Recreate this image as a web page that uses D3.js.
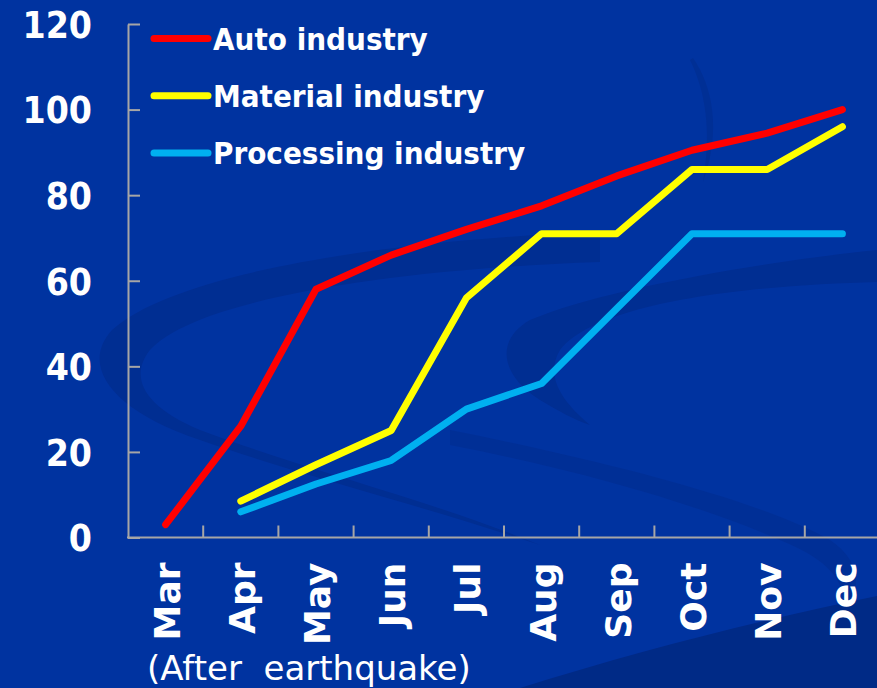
<!DOCTYPE html>
<html>
<head>
<meta charset="utf-8">
<script src="https://cdn.jsdelivr.net/npm/d3@7"></script>
<style>
  html, body { margin: 0; padding: 0; background: #0033a0; }
  svg { display: block; }
</style>
</head>
<body>
<svg id="chart" width="877" height="688"></svg>
<script>
// Recovery of production after the earthquake (index, pre-quake level = 100)
const months = ["Mar", "Apr", "May", "Jun", "Jul", "Aug", "Sep", "Oct", "Nov", "Dec"];
const autoIndustry = [3, 26, 58, 66, 72, 77.5, 84.5, 90.5, 94.5, 100];
const materialIndustry = [null, 8.5, 17, 25, 56, 71, 71, 86, 86, 96];
const processingIndustry = [null, 6, 12.5, 18, 30, 36, 53.5, 71, 71, 71];
const yTicks = [0, 20, 40, 60, 80, 100, 120];
const seriesNames = ["Auto industry", "Material industry", "Processing industry"];
const seriesColors = ["#ff0000", "#ffff00", "#00b0f0"];
const subtitle = "(After  earthquake)";

const series = [autoIndustry, materialIndustry, processingIndustry].map((vals, i) => ({
  name: seriesNames[i],
  color: seriesColors[i],
  values: vals.map((v, j) => ({ month: months[j], value: v }))
}));

const svg = d3.select("#chart");
const W = 877, H = 688;
const plot = { left: 128, right: 880, top: 24, bottom: 537.5 };
const axisColor = "#a6a6a6";
const boldCond = "'DejaVu Sans Condensed', 'DejaVu Sans', sans-serif";

// Background with faint swirl shapes
svg.append("rect").attr("width", W).attr("height", H).attr("fill", "#0033a0");
const deco = svg.append("g").attr("fill", "#002e92");
// left crescent
deco.append("path").attr("d",
  "M600,232 C420,238 180,268 112,330 C80,365 110,410 200,440 C300,475 420,505 540,545 " +
  "C430,500 300,468 200,430 C140,405 130,375 150,350 C200,295 420,268 600,262 Z");
// right crescent
deco.append("path").attr("d",
  "M877,250 C760,262 600,290 530,320 C495,340 500,375 540,400 C560,412 575,420 590,425 " +
  "C560,400 545,375 560,350 C600,300 760,285 877,282 Z");
// faint lower sweep through the right side
deco.append("path").attr("opacity", 0.7).attr("d",
  "M450,430 C600,460 760,500 830,540 C860,560 865,590 840,610 C850,585 830,560 780,540 C700,505 580,470 450,445 Z");
// dark band at the bottom right
deco.append("path").attr("fill", "#002a86").attr("d",
  "M520,688 C640,650 760,620 877,596 L877,688 Z");
// thin arc near the top
deco.append("path").attr("opacity", 0.8).attr("d",
  "M693,58 C712,85 722,130 703,182 C712,130 705,90 690,60 Z");

const x = d3.scaleBand().domain(months).range([plot.left, plot.right]).paddingInner(0).paddingOuter(0);
const y = d3.scaleLinear().domain([0, 120]).range([plot.bottom, plot.top]);

// Y axis: ticks point inward
const yAxis = svg.append("g")
  .attr("transform", `translate(${plot.left},0)`)
  .call(d3.axisLeft(y).tickValues(yTicks).tickSize(-12).tickPadding(36).tickSizeOuter(0));
yAxis.select(".domain").attr("stroke", axisColor).attr("stroke-width", 2);
yAxis.selectAll(".tick line").attr("stroke", axisColor).attr("stroke-width", 2);
yAxis.selectAll(".tick text")
  .attr("fill", "#ffffff")
  .attr("font-family", boldCond)
  .attr("font-weight", "bold")
  .attr("font-size", 37)
  .attr("dy", "0.36em");

// X axis: baseline, boundary ticks, rotated month labels
const xAxis = svg.append("g").attr("transform", `translate(0,${plot.bottom})`);
xAxis.append("line")
  .attr("x1", plot.left - 1).attr("x2", plot.right)
  .attr("stroke", axisColor).attr("stroke-width", 2);
xAxis.selectAll(".xtick").data(months.slice(1)).join("line")
  .attr("class", "xtick")
  .attr("x1", d => x(d)).attr("x2", d => x(d))
  .attr("y1", 0).attr("y2", -12)
  .attr("stroke", axisColor).attr("stroke-width", 2);
xAxis.selectAll(".xlabel").data(months).join("text")
  .attr("class", "xlabel")
  .attr("transform", d => `translate(${x(d) + x.bandwidth() / 2 + 14},25) rotate(-90)`)
  .attr("text-anchor", "end")
  .attr("fill", "#ffffff")
  .attr("font-family", "'DejaVu Sans', sans-serif")
  .attr("font-weight", "bold")
  .attr("font-size", 36)
  .text(d => d);

svg.append("text")
  .attr("x", 147).attr("y", 680)
  .attr("fill", "#ffffff")
  .attr("font-family", "'DejaVu Sans', sans-serif")
  .attr("font-size", 34)
  .style("white-space", "pre")
  .text(subtitle);

// Lines
const line = d3.line()
  .defined(d => d.value !== null)
  .x(d => x(d.month) + x.bandwidth() / 2)
  .y(d => y(d.value));

svg.append("g").selectAll("path").data(series).join("path")
  .attr("d", d => line(d.values))
  .attr("fill", "none")
  .attr("stroke", d => d.color)
  .attr("stroke-width", 7)
  .attr("stroke-linejoin", "round")
  .attr("stroke-linecap", "round");

// Legend
const legend = svg.append("g").selectAll("g").data(series).join("g")
  .attr("transform", (d, i) => `translate(154,${38.5 + i * 57.3})`);
legend.append("line")
  .attr("x1", 0).attr("x2", 54)
  .attr("stroke", d => d.color).attr("stroke-width", 7).attr("stroke-linecap", "round");
legend.append("text")
  .attr("x", 59).attr("dy", "0.36em")
  .attr("fill", "#ffffff")
  .attr("font-family", boldCond)
  .attr("font-weight", "bold")
  .attr("font-size", 31)
  .text(d => d.name);
</script>
</body>
</html>
